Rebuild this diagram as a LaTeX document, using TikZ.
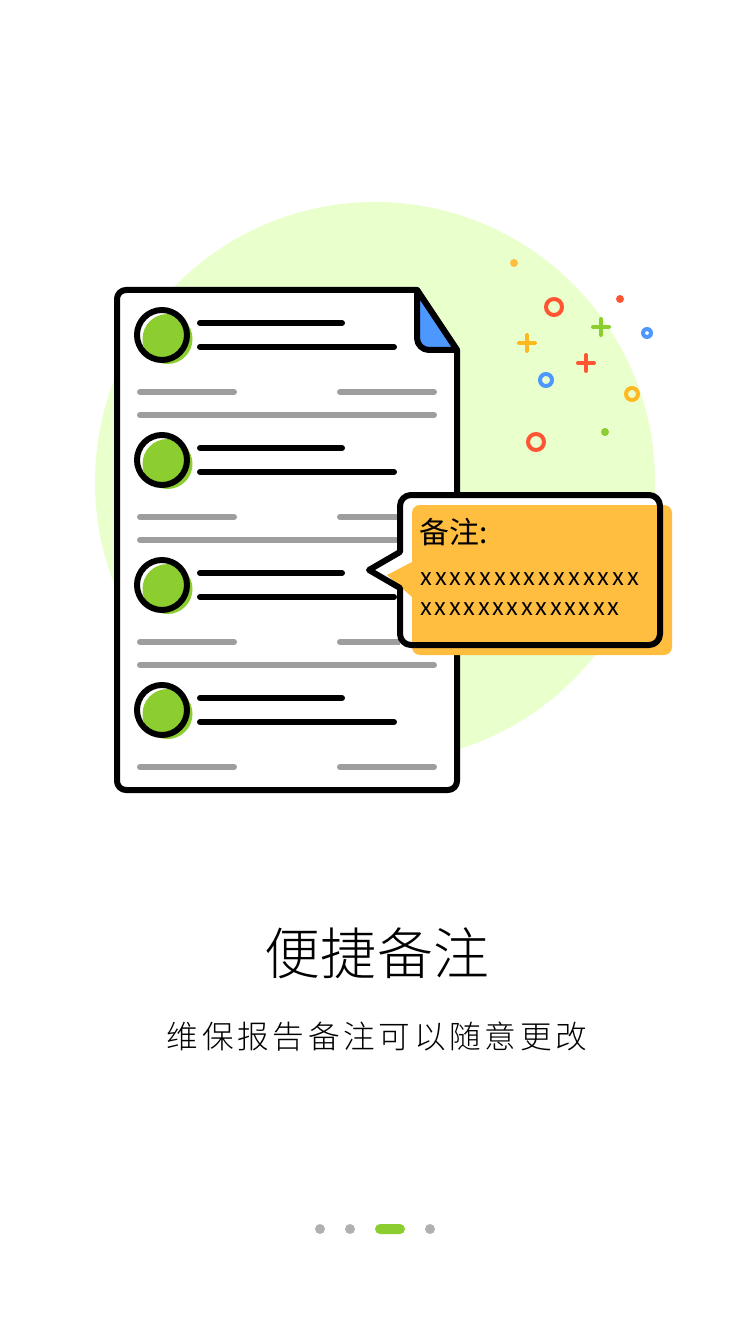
\documentclass[tikz,border=0pt]{standalone}
\usepackage{fontspec}
\newfontfamily\cjk{Noto Sans CJK SC}
\newfontfamily\cjkxa[LetterSpace=12.6]{Noto Sans CJK SC}
\newfontfamily\cjkxb[LetterSpace=11]{Noto Sans CJK SC}
\newfontfamily\cjktitle[LetterSpace=1]{Noto Sans CJK SC Light}
\newfontfamily\cjksub[LetterSpace=11.7]{Noto Sans CJK SC Light}
\definecolor{paleback}{HTML}{E9FFCC}
\definecolor{leafgreen}{HTML}{8CCD30}
\definecolor{foldblue}{HTML}{4C98FF}
\definecolor{notegold}{HTML}{FFBE40}
\definecolor{ringgold}{HTML}{FFB81F}
\definecolor{tomato}{HTML}{FF5533}
\definecolor{rulegray}{HTML}{9E9E9E}
\definecolor{dotgray}{HTML}{B0B0B0}
\tikzset{
  outline/.style={line width=.12cm, line join=round, draw=black},
  blackrule/.style={line width=.12cm, line cap=round, draw=black},
  grayrule/.style={line width=.12cm, line cap=round, draw=rulegray},
  ring/.style={line width=.08cm, fill=none},
  cross/.style={line width=.08cm, line cap=round},
}
\begin{document}
\begin{tikzpicture}[x=.02cm, y=-.02cm]
\useasboundingbox (0,0) rectangle (750,1334);

\fill[paleback] (375,482) circle (280);

\draw[outline, fill=white] (457,350) [rounded corners=.18cm] -- (457,790) -- (117,790) -- (117,290) [sharp corners] -- (417,290) -- cycle;
\draw[outline, fill=foldblue] (417,290) [rounded corners=.24cm] -- (417,350) [sharp corners] -- (457,350) -- cycle;

\fill[leafgreen] (167.5,339) circle (25);
\fill[leafgreen] (167.5,464) circle (25);
\fill[leafgreen] (167.5,589) circle (25);
\fill[leafgreen] (167.5,714) circle (25);
\draw[outline] (162,335) circle (25);
\draw[outline] (162,460) circle (25);
\draw[outline] (162,585) circle (25);
\draw[outline] (162,710) circle (25);

\draw[blackrule] (200,323) -- (342,323);
\draw[blackrule] (200,347) -- (394,347);
\draw[blackrule] (200,448) -- (342,448);
\draw[blackrule] (200,472) -- (394,472);
\draw[blackrule] (200,573) -- (342,573);
\draw[blackrule] (200,597) -- (394,597);
\draw[blackrule] (200,698) -- (342,698);
\draw[blackrule] (200,722) -- (394,722);

\draw[grayrule] (140,392) -- (234,392);
\draw[grayrule] (340,392) -- (434,392);
\draw[grayrule] (140,415) -- (434,415);
\draw[grayrule] (140,517) -- (234,517);
\draw[grayrule] (340,517) -- (434,517);
\draw[grayrule] (140,540) -- (434,540);
\draw[grayrule] (140,642) -- (234,642);
\draw[grayrule] (340,642) -- (434,642);
\draw[grayrule] (140,665) -- (434,665);
\draw[grayrule] (140,767) -- (234,767);
\draw[grayrule] (340,767) -- (434,767);

\fill[white] (400,552) -- (369,570) -- (400,588) -- (400,645) -- (660,645) -- (660,495) -- (400,495) -- cycle;
\fill[notegold, rounded corners=.16cm] (412,505) -- (672,505) -- (672,655) -- (412,655) -- cycle;
\fill[notegold] (412,562) -- (387,575) -- (412,597) -- cycle;
\draw[outline] (500,495) [rounded corners=.22cm] -- (400,495) [sharp corners] -- (400,552) -- (369,570) -- (400,588) [rounded corners=.22cm] -- (400,645) -- (660,645) -- (660,495) -- cycle;

\node[anchor=west, inner sep=0pt, font=\cjk\fontsize{17}{17}\selectfont] (notehead) at (419,532) {备注:};
\node[anchor=west, inner sep=0pt, font=\cjkxa\fontsize{13.5}{13.5}\selectfont] (noteone) at (420,579) {xxxxxxxxxxxxxxx};
\node[anchor=west, inner sep=0pt, font=\cjkxb\fontsize{13.5}{13.5}\selectfont] (notetwo) at (420,609) {xxxxxxxxxxxxxx};

\fill[notegold] (514,263) circle (4);
\fill[tomato] (620,299) circle (4);
\fill[leafgreen] (605,432) circle (4);
\draw[ring, draw=tomato] (554,307) circle (8);
\draw[ring, draw=tomato] (536,442) circle (8);
\draw[ring, draw=foldblue] (546,380) circle (6);
\fill[foldblue, even odd rule] (647,333) circle (6) (647,333) circle (2);
\draw[ring, draw=ringgold] (632,394) circle (6);
\draw[cross, draw=leafgreen] (593,327) -- (609,327) (601,319) -- (601,335);
\draw[cross, draw=ringgold] (519,343) -- (535,343) (527,335) -- (527,351);
\draw[cross, draw=tomato] (578,363) -- (594,363) (586,355) -- (586,371);

\node[font=\cjktitle\fontsize{31.8}{31.8}\selectfont] (title) at (377,953) {便捷备注};
\node[font=\cjksub\fontsize{18}{18}\selectfont] (subtitle) at (377,1037) {维保报告备注可以随意更改};

\fill[dotgray] (320,1229) circle (5);
\fill[dotgray] (350,1229) circle (5);
\fill[dotgray] (430,1229) circle (5);
\fill[leafgreen, rounded corners=.1cm] (375,1224) rectangle (405,1234);

\end{tikzpicture}
\end{document}
